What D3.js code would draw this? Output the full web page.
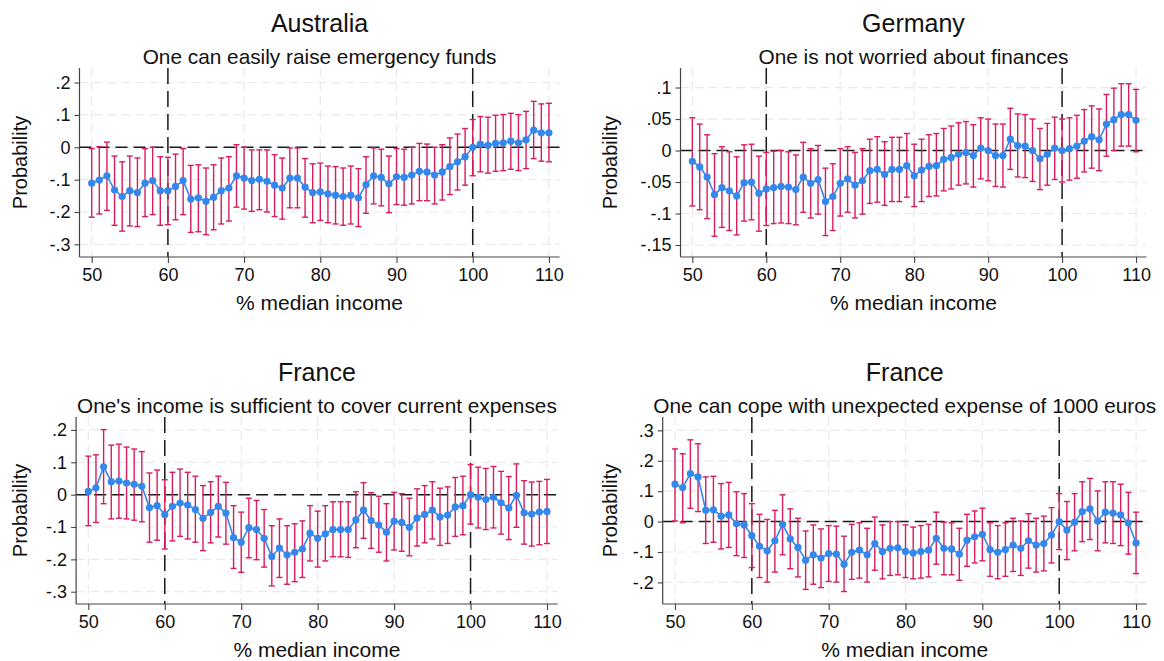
<!DOCTYPE html>
<html>
<head>
<meta charset="utf-8">
<script src="https://cdn.jsdelivr.net/npm/d3@7"></script>
<style>
  body { margin: 0; background: #fff; }
  svg { display: block; font-family: "Liberation Sans", Arial, Helvetica, sans-serif; }
</style>
</head>
<body>
<svg id="chart"></svg>
<script>
// x values: % of median income, 50..110
var incomeLevels = d3.range(50, 111);
var xTicks = [50, 60, 70, 80, 90, 100, 110];
var refX = [60, 100];

var titles = ["Australia", "Germany", "France", "France"];
var subtitles = [
    "One can easily raise emergency funds",
    "One is not worried about finances",
    "One's income is sufficient to cover current expenses",
    "One can cope with unexpected expense of 1000 euros"
];

// Australia
var est1 = [-0.111,-0.101,-0.088,-0.132,-0.152,-0.134,-0.140,-0.111,-0.103,-0.134,
    -0.134,-0.121,-0.103,-0.160,-0.156,-0.167,-0.154,-0.134,-0.126,-0.088,
    -0.095,-0.103,-0.099,-0.105,-0.117,-0.126,-0.095,-0.095,-0.123,-0.140,
    -0.138,-0.144,-0.148,-0.152,-0.148,-0.156,-0.115,-0.088,-0.093,-0.113,
    -0.091,-0.093,-0.086,-0.074,-0.076,-0.086,-0.076,-0.060,-0.045,-0.029,
    0.000,0.010,0.006,0.012,0.014,0.019,0.014,0.023,0.053,0.045,0.045];
var hi1 = [-0.004,0.002,0.016,-0.027,-0.045,-0.027,-0.033,-0.004,0.000,-0.029,
    -0.031,-0.021,-0.004,-0.056,-0.054,-0.064,-0.054,-0.033,-0.029,0.008,
    0.000,-0.008,-0.008,-0.008,-0.023,-0.033,-0.002,-0.002,-0.035,-0.051,
    -0.049,-0.058,-0.060,-0.064,-0.058,-0.066,-0.029,-0.002,-0.006,-0.027,
    -0.004,-0.006,0.000,0.012,0.010,0.000,0.008,0.029,0.041,0.058,
    0.086,0.095,0.093,0.099,0.101,0.105,0.101,0.111,0.142,0.134,0.136];
var lo1 = [-0.216,-0.206,-0.195,-0.241,-0.259,-0.243,-0.245,-0.214,-0.208,-0.241,
    -0.239,-0.224,-0.208,-0.263,-0.261,-0.270,-0.255,-0.237,-0.228,-0.185,
    -0.191,-0.198,-0.193,-0.200,-0.214,-0.222,-0.187,-0.187,-0.216,-0.233,
    -0.226,-0.233,-0.237,-0.241,-0.237,-0.245,-0.204,-0.175,-0.181,-0.202,
    -0.177,-0.179,-0.175,-0.165,-0.165,-0.175,-0.163,-0.146,-0.132,-0.117,
    -0.088,-0.076,-0.080,-0.074,-0.072,-0.068,-0.072,-0.066,-0.035,-0.043,-0.045];

// Germany
var est2 = [-0.017,-0.026,-0.042,-0.070,-0.059,-0.064,-0.072,-0.051,-0.050,-0.068,
    -0.061,-0.059,-0.057,-0.058,-0.062,-0.042,-0.052,-0.046,-0.081,-0.073,
    -0.052,-0.045,-0.055,-0.048,-0.032,-0.030,-0.038,-0.030,-0.030,-0.024,
    -0.040,-0.031,-0.025,-0.024,-0.014,-0.011,-0.006,-0.003,-0.008,0.004,
    0.000,-0.008,-0.008,0.018,0.008,0.007,0.000,-0.013,-0.006,0.004,
    0.000,0.003,0.007,0.015,0.022,0.017,0.042,0.049,0.057,0.057,0.048];
var hi2 = [0.052,0.042,0.025,-0.005,0.006,-0.002,-0.010,0.009,0.010,-0.009,
    -0.003,-0.001,0.000,-0.002,-0.007,0.013,0.003,0.008,-0.028,-0.021,
    0.003,0.006,-0.003,0.003,0.018,0.022,0.014,0.021,0.021,0.027,
    0.010,0.018,0.025,0.027,0.035,0.039,0.044,0.046,0.041,0.052,
    0.050,0.042,0.042,0.067,0.058,0.057,0.050,0.035,0.043,0.053,
    0.050,0.052,0.056,0.065,0.071,0.066,0.089,0.099,0.106,0.106,0.097];
var lo2 = [-0.088,-0.094,-0.108,-0.136,-0.122,-0.127,-0.134,-0.112,-0.110,-0.128,
    -0.119,-0.116,-0.115,-0.116,-0.118,-0.098,-0.107,-0.101,-0.135,-0.127,
    -0.104,-0.098,-0.107,-0.101,-0.084,-0.082,-0.087,-0.081,-0.081,-0.074,
    -0.089,-0.081,-0.073,-0.072,-0.064,-0.061,-0.055,-0.053,-0.058,-0.045,
    -0.048,-0.057,-0.058,-0.030,-0.042,-0.043,-0.049,-0.062,-0.055,-0.046,
    -0.050,-0.047,-0.044,-0.034,-0.028,-0.032,-0.009,0.000,0.007,0.007,-0.002];

// France, income sufficient
var est3 = [0.010,0.021,0.086,0.040,0.042,0.036,0.032,0.026,-0.040,-0.034,
    -0.061,-0.036,-0.026,-0.032,-0.046,-0.073,-0.055,-0.036,-0.057,-0.133,
    -0.147,-0.102,-0.108,-0.135,-0.191,-0.165,-0.186,-0.178,-0.168,-0.119,
    -0.135,-0.121,-0.108,-0.108,-0.108,-0.078,-0.048,-0.080,-0.094,-0.116,
    -0.082,-0.086,-0.101,-0.072,-0.061,-0.048,-0.069,-0.063,-0.038,-0.034,
    0.000,-0.008,-0.015,-0.008,-0.025,-0.041,-0.002,-0.056,-0.060,-0.054,-0.052];
var hi3 = [0.119,0.123,0.201,0.153,0.156,0.147,0.141,0.133,0.067,0.076,
    0.046,0.069,0.079,0.069,0.057,0.028,0.040,0.057,0.038,-0.034,
    -0.054,-0.011,-0.018,-0.046,-0.096,-0.075,-0.096,-0.090,-0.081,-0.034,
    -0.051,-0.034,-0.022,-0.022,-0.022,0.009,0.037,0.006,-0.005,-0.028,
    0.007,0.003,-0.011,0.018,0.028,0.040,0.020,0.024,0.053,0.057,
    0.093,0.085,0.081,0.087,0.072,0.056,0.095,0.043,0.039,0.041,0.047];
var lo3 = [-0.096,-0.086,-0.028,-0.075,-0.073,-0.075,-0.079,-0.084,-0.147,-0.141,
    -0.168,-0.143,-0.129,-0.137,-0.147,-0.173,-0.149,-0.131,-0.153,-0.228,
    -0.240,-0.195,-0.201,-0.224,-0.282,-0.256,-0.277,-0.269,-0.256,-0.205,
    -0.224,-0.205,-0.192,-0.192,-0.194,-0.164,-0.135,-0.166,-0.178,-0.205,
    -0.171,-0.175,-0.189,-0.159,-0.149,-0.137,-0.157,-0.151,-0.129,-0.124,
    -0.091,-0.103,-0.108,-0.103,-0.122,-0.139,-0.101,-0.153,-0.159,-0.155,-0.151];

// France, unexpected expense
var est4 = [0.123,0.112,0.158,0.147,0.037,0.039,0.018,0.022,-0.007,-0.011,
    -0.046,-0.081,-0.096,-0.063,-0.009,-0.057,-0.085,-0.127,-0.109,-0.120,
    -0.105,-0.107,-0.140,-0.101,-0.094,-0.109,-0.072,-0.098,-0.088,-0.086,
    -0.098,-0.103,-0.098,-0.094,-0.055,-0.088,-0.090,-0.107,-0.061,-0.050,
    -0.042,-0.092,-0.101,-0.092,-0.077,-0.088,-0.063,-0.077,-0.072,-0.044,
    0.000,-0.028,-0.002,0.033,0.042,0.002,0.031,0.028,0.022,-0.004,-0.070];
var hi4 = [0.239,0.223,0.269,0.256,0.147,0.149,0.125,0.129,0.098,0.092,
    0.059,0.024,0.007,0.037,0.088,0.042,0.011,-0.031,-0.011,-0.024,
    -0.013,-0.015,-0.048,-0.009,-0.004,-0.022,0.015,-0.011,0.000,0.000,
    -0.011,-0.018,-0.013,-0.009,0.031,-0.002,-0.004,-0.022,0.024,0.035,
    0.044,-0.004,-0.013,-0.004,0.011,0.002,0.026,0.011,0.018,0.046,
    0.092,0.066,0.092,0.131,0.142,0.101,0.131,0.131,0.123,0.096,0.031];
var lo4 = [0.002,-0.004,0.044,0.033,-0.072,-0.068,-0.090,-0.085,-0.112,-0.118,
    -0.151,-0.184,-0.199,-0.166,-0.109,-0.155,-0.182,-0.223,-0.206,-0.217,
    -0.197,-0.199,-0.230,-0.190,-0.186,-0.199,-0.160,-0.188,-0.177,-0.175,
    -0.184,-0.188,-0.186,-0.182,-0.140,-0.175,-0.175,-0.193,-0.147,-0.136,
    -0.129,-0.180,-0.188,-0.180,-0.164,-0.177,-0.153,-0.166,-0.162,-0.136,
    -0.092,-0.125,-0.096,-0.066,-0.059,-0.096,-0.070,-0.072,-0.079,-0.107,-0.171];

var yTicks1 = [-0.3, -0.2, -0.1, 0, 0.1, 0.2];
var yLabels1 = ["-.3", "-.2", "-.1", "0", ".1", ".2"];
var yTicks2 = [-0.15, -0.1, -0.05, 0, 0.05, 0.1];
var yLabels2 = ["-.15", "-.1", "-.05", "0", ".05", ".1"];
var yTicks4 = [-0.2, -0.1, 0, 0.1, 0.2, 0.3];
var yLabels4 = ["-.2", "-.1", "0", ".1", ".2", ".3"];

// axis extents (value at bottom / top of plot region)
var yRange1 = [-0.339, 0.245];
var yRange2 = [-0.169, 0.131];
var yRange3 = [-0.338, 0.240];
var yRange4 = [-0.271, 0.344];
var xRange = [48.4, 111.4];

var width = 1164;
var height = 661;
var blue = "#3487ec";
var pink = "#d81d5c";
var grid = "#e9e9e9";

var svg = d3.select("#chart")
    .attr("width", width)
    .attr("height", height);

svg.append("rect")
    .attr("width", width)
    .attr("height", height)
    .attr("fill", "#fff");

// plot region per panel: left, right, top, bottom, label column
var panels = [
    {est: est1, lo: lo1, hi: hi1, ticks: yTicks1, labels: yLabels1, yr: yRange1,
        left: 79.5, right: 559.6, top: 68, bottom: 257, ylabX: 20},
    {est: est2, lo: lo2, hi: hi2, ticks: yTicks2, labels: yLabels2, yr: yRange2,
        left: 680.5, right: 1146.4, top: 68, bottom: 257, ylabX: 610},
    {est: est3, lo: lo3, hi: hi3, ticks: yTicks1, labels: yLabels1, yr: yRange3,
        left: 76.1, right: 557.7, top: 417, bottom: 604, ylabX: 20},
    {est: est4, lo: lo4, hi: hi4, ticks: yTicks4, labels: yLabels4, yr: yRange4,
        left: 662.7, right: 1146.8, top: 417, bottom: 604, ylabX: 610}
];

function draw_panel(p, i) {
    var xScale = d3.scaleLinear().domain(xRange).range([p.left, p.right]);
    var yScale = d3.scaleLinear().domain(p.yr).range([p.bottom, p.top]);
    var g = svg.append("g");

    var rows = incomeLevels.map(function (x, j) {
        return {x: x, y: p.est[j], lo: p.lo[j], hi: p.hi[j]};
    });

    // light grid
    g.append("g").selectAll("line")
        .data(p.ticks)
        .enter().append("line")
        .attr("x1", p.left).attr("x2", p.right)
        .attr("y1", function (d) { return yScale(d); })
        .attr("y2", function (d) { return yScale(d); })
        .attr("stroke", grid).attr("stroke-width", 1.2)
        .attr("stroke-dasharray", "9,5");
    g.append("g").selectAll("line")
        .data(xTicks)
        .enter().append("line")
        .attr("x1", function (d) { return xScale(d); })
        .attr("x2", function (d) { return xScale(d); })
        .attr("y1", p.top).attr("y2", p.bottom)
        .attr("stroke", grid).attr("stroke-width", 1.2)
        .attr("stroke-dasharray", "9,5");

    // reference lines
    g.append("line")
        .attr("x1", p.left).attr("x2", p.right)
        .attr("y1", yScale(0)).attr("y2", yScale(0))
        .attr("stroke", "#1a1a1a").attr("stroke-width", 1.5)
        .attr("stroke-dasharray", "12,6");
    g.append("g").selectAll("line")
        .data(refX)
        .enter().append("line")
        .attr("x1", function (d) { return xScale(d); })
        .attr("x2", function (d) { return xScale(d); })
        .attr("y1", p.top).attr("y2", p.bottom)
        .attr("stroke", "#1a1a1a").attr("stroke-width", 1.5)
        .attr("stroke-dasharray", "16,7");

    // axes
    var yAxis = d3.axisLeft(yScale)
        .tickValues(p.ticks)
        .tickFormat(function (d, k) { return p.labels[k]; })
        .tickSize(5).tickPadding(4);
    var ya = g.append("g")
        .attr("transform", "translate(" + p.left + ",0)")
        .call(yAxis);
    ya.select(".domain").attr("d", "M0," + p.top + "V" + p.bottom);

    var xAxis = d3.axisBottom(xScale)
        .tickValues(xTicks)
        .tickSize(6).tickPadding(5);
    var xa = g.append("g")
        .attr("transform", "translate(0," + p.bottom + ")")
        .call(xAxis);
    xa.select(".domain").attr("d", "M" + p.left + ",0H" + p.right);

    g.selectAll(".domain").attr("stroke", "#444").attr("stroke-width", 1.2);
    g.selectAll(".tick line").attr("stroke", "#444").attr("stroke-width", 1.1);
    g.selectAll(".tick text")
        .attr("fill", "#111")
        .style("font-size", "18px")
        .style("font-family", "'Liberation Sans', Arial, sans-serif");

    // error bars
    var bars = g.append("g").selectAll("g")
        .data(rows)
        .enter().append("g")
        .attr("stroke", pink)
        .attr("stroke-width", 1.4);
    bars.append("line")
        .attr("x1", function (d) { return xScale(d.x); })
        .attr("x2", function (d) { return xScale(d.x); })
        .attr("y1", function (d) { return yScale(d.lo); })
        .attr("y2", function (d) { return yScale(d.hi); });
    bars.append("line")
        .attr("x1", function (d) { return xScale(d.x) - 3; })
        .attr("x2", function (d) { return xScale(d.x) + 3; })
        .attr("y1", function (d) { return yScale(d.lo); })
        .attr("y2", function (d) { return yScale(d.lo); });
    bars.append("line")
        .attr("x1", function (d) { return xScale(d.x) - 3; })
        .attr("x2", function (d) { return xScale(d.x) + 3; })
        .attr("y1", function (d) { return yScale(d.hi); })
        .attr("y2", function (d) { return yScale(d.hi); });

    // estimate line + markers
    var linePath = d3.line()
        .x(function (d) { return xScale(d.x); })
        .y(function (d) { return yScale(d.y); });
    g.append("path")
        .attr("d", linePath(rows))
        .attr("fill", "none")
        .attr("stroke", blue)
        .attr("stroke-width", 1.6);
    g.append("g").selectAll("circle")
        .data(rows)
        .enter().append("circle")
        .attr("cx", function (d) { return xScale(d.x); })
        .attr("cy", function (d) { return yScale(d.y); })
        .attr("r", 3.6)
        .attr("fill", blue);

    // titles
    var cx = (p.left + p.right) / 2;
    g.append("text")
        .attr("x", cx).attr("y", p.top - 36)
        .attr("text-anchor", "middle")
        .style("font-size", "25px")
        .attr("fill", "#111")
        .text(titles[i]);
    g.append("text")
        .attr("x", cx).attr("y", p.top - 4)
        .attr("text-anchor", "middle")
        .style("font-size", "20.8px")
        .attr("fill", "#111")
        .text(subtitles[i]);
    g.append("text")
        .attr("x", cx).attr("y", p.bottom + 53)
        .attr("text-anchor", "middle")
        .style("font-size", "21px")
        .attr("fill", "#111")
        .text("% median income");
    g.append("text")
        .attr("transform", "translate(" + (p.ylabX + 7) + "," + ((p.top + p.bottom) / 2) + ") rotate(-90)")
        .attr("text-anchor", "middle")
        .style("font-size", "20px")
        .attr("fill", "#111")
        .text("Probability");
}

panels.forEach(draw_panel);
</script>
</body>
</html>
